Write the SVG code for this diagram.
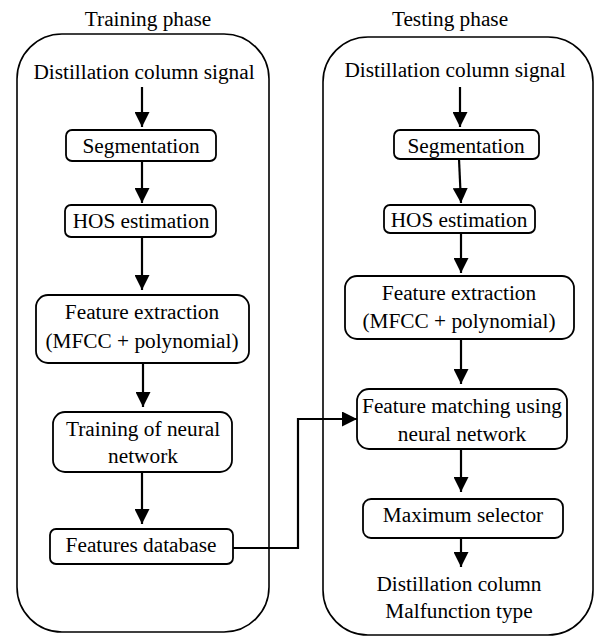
<svg xmlns="http://www.w3.org/2000/svg" width="596" height="637" viewBox="0 0 596 637">
<defs>
<style>
text{font-family:'Liberation Serif',Tinos,'Times New Roman','DejaVu Serif',serif;font-size:21.3px;fill:#000;text-anchor:middle}
.box{fill:#fff;stroke:#000;stroke-width:1.8}
.phase{fill:none;stroke:#000;stroke-width:1.6}
.arr{fill:none;stroke:#000;stroke-width:2.2;marker-end:url(#ah)}
</style>
<marker id="ah" markerUnits="userSpaceOnUse" markerWidth="15" markerHeight="15" refX="15" refY="7.5" orient="auto" viewBox="0 0 15 15">
<path d="M0,0 L15,7.5 L0,15 z" fill="#000"/>
</marker>
</defs>
<rect width="596" height="637" fill="#fff"/>
<g id="training-phase">
<rect class="phase" x="17" y="34" width="252" height="598" rx="45" ry="45"/>
<text x="148" y="26">Training phase</text>
</g>
<g id="testing-phase">
<rect class="phase" x="323" y="37" width="270" height="598" rx="45" ry="45"/>
<text x="450" y="26">Testing phase</text>
</g>
<g id="connectors">
<line class="arr" x1="142" y1="87" x2="142" y2="127"/>
<line class="arr" x1="142" y1="161" x2="142" y2="203"/>
<line class="arr" x1="142" y1="237" x2="142" y2="290"/>
<line class="arr" x1="143" y1="363" x2="143" y2="407"/>
<line class="arr" x1="142" y1="472" x2="142" y2="524"/>
<polyline class="arr" points="233,548 298,548 298,419 357,419"/>
<line class="arr" x1="460" y1="87" x2="460" y2="127"/>
<line class="arr" x1="459" y1="159" x2="461" y2="203"/>
<line class="arr" x1="461" y1="233" x2="461" y2="273"/>
<line class="arr" x1="461" y1="339" x2="461" y2="384"/>
<line class="arr" x1="461" y1="449" x2="461" y2="492"/>
<line class="arr" x1="461" y1="538" x2="461" y2="567"/>
</g>
<g id="t-input"><text x="144" y="79">Distillation column signal</text></g>
<g id="t-seg"><rect class="box" x="66" y="130" width="150" height="31" rx="6"/><text x="141" y="153">Segmentation</text></g>
<g id="t-hos"><rect class="box" x="65" y="205" width="151" height="32" rx="6"/><text x="141" y="228">HOS estimation</text></g>
<g id="t-fe"><rect class="box" x="36" y="295" width="213" height="68" rx="12"/><text x="142" y="319">Feature extraction</text><text x="142" y="348">(MFCC + polynomial)</text></g>
<g id="t-train"><rect class="box" x="53" y="412" width="179" height="60" rx="12"/><text x="143" y="436">Training of neural</text><text x="143" y="463">network</text></g>
<g id="t-db"><rect class="box" x="50" y="529" width="183" height="35" rx="6"/><text x="141" y="552">Features database</text></g>
<g id="s-input"><text x="455" y="77">Distillation column signal</text></g>
<g id="s-seg"><rect class="box" x="394" y="130" width="145" height="29" rx="6"/><text x="466" y="153">Segmentation</text></g>
<g id="s-hos"><rect class="box" x="384" y="205" width="151" height="28" rx="6"/><text x="459" y="227">HOS estimation</text></g>
<g id="s-fe"><rect class="box" x="345" y="276" width="229" height="63" rx="12"/><text x="459" y="300">Feature extraction</text><text x="459" y="328">(MFCC + polynomial)</text></g>
<g id="s-fm"><rect class="box" x="357" y="389" width="210" height="60" rx="12"/><text x="462" y="413">Feature matching using</text><text x="462" y="441">neural network</text></g>
<g id="s-max"><rect class="box" x="363" y="499" width="200" height="39" rx="8"/><text x="463" y="522">Maximum selector</text></g>
<g id="s-out"><text x="459" y="591">Distillation column</text><text x="459" y="618">Malfunction type</text></g>
</svg>
